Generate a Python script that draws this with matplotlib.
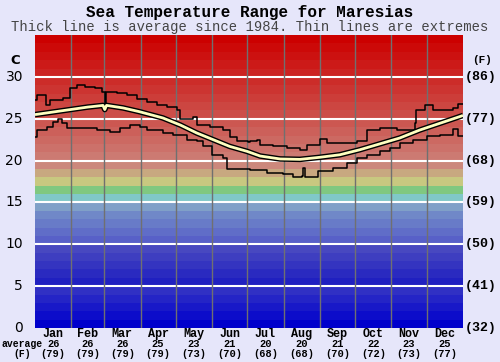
import matplotlib
matplotlib.use('Agg')
import matplotlib.pyplot as plt
import matplotlib.transforms as mtransforms
import numpy as np

# ------------------------------
# data
# ------------------------------
months = ['Jan', 'Feb', 'Mar', 'Apr', 'May', 'Jun',
          'Jul', 'Aug', 'Sep', 'Oct', 'Nov', 'Dec']
month_avg_c = [26, 26, 26, 25, 23, 21, 20, 20, 21, 22, 23, 25]
month_avg_f = [79, 79, 79, 79, 73, 70, 68, 68, 70, 72, 73, 77]
month_days = [31, 28, 31, 30, 31, 30, 31, 31, 30, 31, 30, 31]

avg_day = [0, 15, 30, 45, 58, 59.5, 61, 75, 89, 109, 124, 138, 152, 166, 181,
           192, 209, 226, 243, 260, 277, 294, 311, 328, 345, 362, 365]
avg_temp = [25.5, 25.8, 26.1, 26.4, 26.6, 26.1, 26.6, 26.3, 25.85, 25.1, 24.25,
            23.3, 22.5, 21.7, 21.1, 20.55, 20.2, 20.15, 20.4, 20.7, 21.3,
            22.0, 22.7, 23.65, 24.45, 25.25, 25.4]

max_day = [0, 2, 9, 13, 24, 30, 36, 43, 51, 57, 59.5, 60.5, 70, 78.5, 87, 95.5,
           104, 112.5, 121, 124, 135, 138, 149, 160, 166, 172, 181.6, 183, 189,
           192, 203, 215, 226, 232, 243, 249, 260, 274.6, 283, 294, 309, 324,
           325, 332.6, 339.4, 356.5, 360.7, 365]
max_temp = [27.2, 27.8, 26.6, 27.2, 27.5, 28.7, 29.0, 28.8, 28.7, 28.2, 26.9,
            28.2, 28.1, 27.8, 27.4, 27.0, 26.6, 26.4, 26.0, 25.0, 25.2, 24.25,
            24.0, 23.65, 22.8, 22.3, 22.2, 22.3, 22.5, 21.9, 21.7, 21.5, 21.3,
            21.9, 22.55, 22.1, 22.1, 22.3, 23.65, 23.85, 23.65, 24.45, 26.05,
            26.65, 26.05, 26.3, 26.75, 26.75]

min_day = [0, 2, 10, 15, 20, 23, 27, 41, 53, 64, 72.5, 81, 89.5, 95.5, 109,
           118, 130, 138, 143, 151, 160, 164, 183, 198, 211.5, 220, 228, 228.5,
           230, 237, 241, 254, 266, 274.6, 283, 294, 303, 311, 322, 334, 345,
           356.5, 360.7, 365]
min_temp = [22.85, 23.65, 24.05, 24.65, 24.95, 24.45, 23.85, 23.85, 23.65,
            23.45, 23.85, 24.25, 24.05, 23.65, 23.25, 23.05, 22.45, 22.3, 21.7,
            20.7, 20.3, 18.95, 18.9, 18.5, 18.4, 18.1, 18.2, 19.1, 18.0, 18.1,
            18.8, 19.1, 19.7, 20.3, 20.7, 21.1, 21.5, 22.1, 22.45, 22.95, 23.05,
            23.75, 22.95, 22.95]

c_ticks = [0, 5, 10, 15, 20, 25, 30]
f_ticks = ['(32)', '(41)', '(50)', '(59)', '(68)', '(77)', '(86)']

# ------------------------------
# colour bands, one per degree
# ------------------------------
def mix(a, b, t):
    return tuple((a[i] + (b[i] - a[i]) * t) / 255 for i in range(3))

band_cols = []
for d in range(35):
    if d < 5:
        band_cols.append(mix((0, 0, 204), (48, 48, 196), d / 4))
    elif d < 10:
        band_cols.append(mix((32, 32, 192), (72, 72, 192), (d - 5) / 4))
    elif d < 14:
        band_cols.append(mix((88, 96, 200), (112, 136, 200), (d - 10) / 3))
    elif d < 20:
        fixed = [(128, 160, 200), (128, 200, 200), (128, 200, 128),
                 (200, 200, 128), (200, 168, 128), (204, 136, 124)]
        band_cols.append(mix(fixed[d - 14], fixed[d - 14], 0))
    else:
        band_cols.append(mix((204, 122, 114), (204, 0, 0), (d - 20) / 14))

bg = '#e6e6fa'
fig = plt.figure(figsize=(5, 3.62), dpi=100, facecolor=bg)
ax = fig.add_axes([0.07, 0.094, 0.856, 0.809])

for d, col in enumerate(band_cols):
    ax.axhspan(d, d + 1, color=col, lw=0, zorder=0)

for t in c_ticks[1:]:
    ax.axhline(t, color='white', lw=1.5, zorder=1)

edges = np.cumsum(month_days)
for e in edges[:-1]:
    ax.axvline(e, color='#707070', lw=1, zorder=1)

ax.plot(max_day, max_temp, color='black', lw=1.1, drawstyle='steps-post', zorder=3)
ax.plot(min_day, min_temp, color='black', lw=1.1, drawstyle='steps-post', zorder=3)
ax.plot(avg_day, avg_temp, color='black', lw=4, zorder=4, solid_capstyle='butt')
ax.plot(avg_day, avg_temp, color='#ffffc0', lw=2, zorder=5, solid_capstyle='butt')

ax.set_xlim(0, 365)
ax.set_ylim(0, 35)
ax.set_xticks([])
ax.set_yticks([])
for s in ax.spines.values():
    s.set_visible(False)

mono = 'Liberation Mono'
fig.text(0.5, 0.965, 'Sea Temperature Range for Maresias', ha='center', va='center',
         family=mono, weight='bold', fontsize=11.5)
fig.text(0.5, 0.926, 'Thick line is average since 1984. Thin lines are extremes',
         ha='center', va='center', family=mono, fontsize=10, color='#444444')

# left / right axis labels
yt = mtransforms.blended_transform_factory(fig.transFigure, ax.transData)
for t, f in zip(c_ticks, f_ticks):
    fig.text(0.046, t, str(t), transform=yt, ha='right', va='center',
             family='DejaVu Sans', fontsize=10)
    fig.text(0.93, t, f, transform=yt, ha='left', va='center',
             family=mono, weight='bold', fontsize=9.5)
fig.text(0.03, 32, 'C', transform=yt, ha='center', va='center',
         family='DejaVu Sans', weight='bold', fontsize=9.5)
fig.text(0.965, 32, '(F)', transform=yt, ha='center', va='center',
         family=mono, weight='bold', fontsize=8)

# bottom month labels
xt = mtransforms.blended_transform_factory(ax.transData, fig.transFigure)
starts = edges - np.array(month_days)
for m, c, f, s, n in zip(months, month_avg_c, month_avg_f, starts, month_days):
    mid = s + n / 2
    fig.text(mid, 0.077, m, transform=xt, ha='center', va='center',
             family=mono, weight='bold', fontsize=8.5)
    fig.text(mid, 0.049, str(c), transform=xt, ha='center', va='center',
             family=mono, weight='bold', fontsize=7.5)
    fig.text(mid, 0.022, '(%d)' % f, transform=xt, ha='center', va='center',
             family=mono, weight='bold', fontsize=7.5)
fig.text(0.004, 0.049, 'average', ha='left', va='center', family=mono,
         weight='bold', fontsize=7)
fig.text(0.044, 0.022, '(F)', ha='center', va='center', family=mono,
         weight='bold', fontsize=7)

fig.savefig('out.png', dpi=100, facecolor=bg)
